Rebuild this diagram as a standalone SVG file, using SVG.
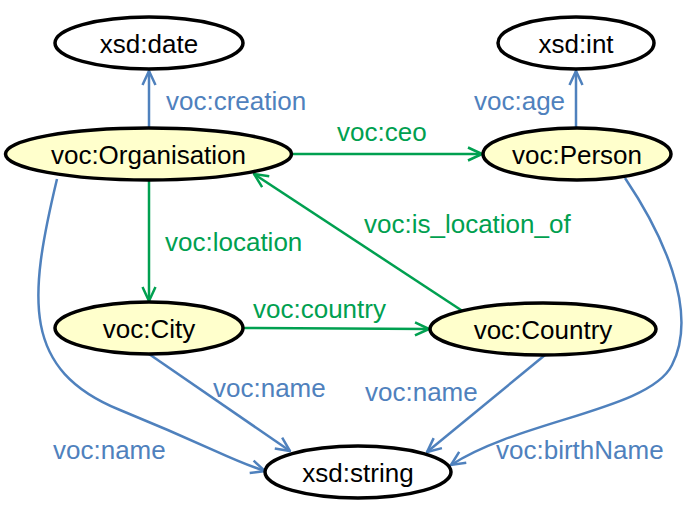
<svg xmlns="http://www.w3.org/2000/svg" width="690" height="508" viewBox="0 0 690 508">
<style>
.node ellipse{stroke:#000;stroke-width:3.5}
.lit ellipse{fill:#fff}
.cls ellipse{fill:#ffffcc}
text{font-family:"Liberation Sans",Arial,sans-serif;font-size:26px}
.nt{text-anchor:middle;fill:#000}
.bl{fill:#4f81bd}
.gr{fill:#00a050}
.eb{stroke:#4f81bd;stroke-width:2.5;fill:none;marker-end:url(#ab)}
.eg{stroke:#00a050;stroke-width:2.5;fill:none;marker-end:url(#ag)}
</style>
<defs>
<marker id="ab" viewBox="0 0 16 16" refX="15" refY="8" markerWidth="16" markerHeight="16" markerUnits="userSpaceOnUse" orient="auto"><path d="M1,1.5 L15,8 L1,14.5" fill="none" stroke="#4f81bd" stroke-width="2.5"/></marker>
<marker id="ag" viewBox="0 0 16 16" refX="15" refY="8" markerWidth="16" markerHeight="16" markerUnits="userSpaceOnUse" orient="auto"><path d="M1,1.5 L15,8 L1,14.5" fill="none" stroke="#00a050" stroke-width="2.5"/></marker>
</defs>
<g id="connectors">
<path class="eb" d="M149,128 L149,71"/>
<path class="eb" d="M576,128 L576,71"/>
<path class="eg" d="M292,154 L482,154"/>
<path class="eg" d="M149,180 L149,301"/>
<path class="eg" d="M243,328 L429,329"/>
<path class="eg" d="M464,312 L254,174"/>
<path class="eb" d="M149,354 L290,451"/>
<path class="eb" d="M545,355 L427,452"/>
<path class="eb" d="M57,179 C28,300 22,370 120,410 S230,460 265,471"/>
<path class="eb" d="M625,178 C660,230 700,310 672,365 C650,410 520,420 451,465"/>
<text class="bl" x="166" y="110">voc:creation</text>
<text class="bl" x="474" y="110">voc:age</text>
<text class="gr" x="337" y="141">voc:ceo</text>
<text class="gr" x="165" y="251">voc:location</text>
<text class="gr" x="253" y="318">voc:country</text>
<text class="gr" x="364" y="233">voc:is_location_of</text>
<text class="bl" x="213" y="397">voc:name</text>
<text class="bl" x="365" y="401">voc:name</text>
<text class="bl" x="53" y="459">voc:name</text>
<text class="bl" x="496" y="459">voc:birthName</text>
</g>
<g id="xsd_date" class="node lit"><ellipse cx="149" cy="43" rx="94" ry="26"/><text class="nt" x="149" y="52.5">xsd:date</text></g>
<g id="xsd_int" class="node lit"><ellipse cx="576" cy="43" rx="78" ry="26"/><text class="nt" x="576" y="52.5">xsd:int</text></g>
<g id="voc_Organisation" class="node cls"><ellipse cx="148.5" cy="154" rx="143" ry="26"/><text class="nt" x="148.5" y="163.5">voc:Organisation</text></g>
<g id="voc_Person" class="node cls"><ellipse cx="577" cy="154" rx="94" ry="26"/><text class="nt" x="577" y="163.5">voc:Person</text></g>
<g id="voc_City" class="node cls"><ellipse cx="149" cy="328" rx="94" ry="26"/><text class="nt" x="149" y="337.5">voc:City</text></g>
<g id="voc_Country" class="node cls"><ellipse cx="543" cy="329" rx="113" ry="26"/><text class="nt" x="543" y="338.5">voc:Country</text></g>
<g id="xsd_string" class="node lit"><ellipse cx="358" cy="472" rx="93" ry="26"/><text class="nt" x="358" y="481.5">xsd:string</text></g>
</svg>
